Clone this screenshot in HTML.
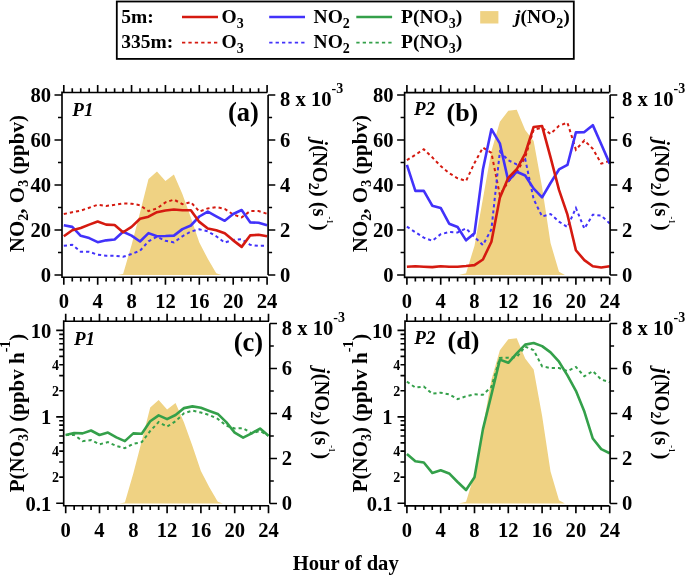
<!DOCTYPE html><html><head><meta charset="utf-8"><style>html,body{margin:0;padding:0;background:#fff;}svg{display:block;will-change:transform;}</style></head><body>
<svg width="685" height="575" viewBox="0 0 685 575" font-family="'Liberation Serif', serif" font-weight="bold">
<rect width="685" height="575" fill="#fff"/>
<rect x="116.8" y="1.5" width="457" height="57.4" fill="none" stroke="#000" stroke-width="1.8"/>
<text x="121.3" y="23.1" font-size="19.5" text-anchor="start" >5m:</text>
<text x="121.3" y="48.3" font-size="19.5" text-anchor="start" >335m:</text>
<line x1="182" y1="17" x2="218" y2="17" stroke="#d51a10" stroke-width="2.6"/>
<line x1="182" y1="42.6" x2="218" y2="42.6" stroke="#d51a10" stroke-width="1.6" stroke-dasharray="3.3,3.1"/>
<text x="221.5" y="23.2" font-size="19.5" text-anchor="start" >O<tspan font-size="14" dy="4.5">3</tspan></text>
<text x="221.5" y="48.4" font-size="19.5" text-anchor="start" >O<tspan font-size="14" dy="4.5">3</tspan></text>
<line x1="269.2" y1="17" x2="305" y2="17" stroke="#4232fa" stroke-width="2.6"/>
<line x1="269.2" y1="42.6" x2="305" y2="42.6" stroke="#4232fa" stroke-width="1.6" stroke-dasharray="3.3,3.1"/>
<text x="313.6" y="23.2" font-size="19.5" text-anchor="start" >NO<tspan font-size="14" dy="4.5">2</tspan></text>
<text x="313.6" y="48.4" font-size="19.5" text-anchor="start" >NO<tspan font-size="14" dy="4.5">2</tspan></text>
<line x1="356.3" y1="17" x2="392.1" y2="17" stroke="#34a04a" stroke-width="2.6"/>
<line x1="356.3" y1="42.6" x2="392.1" y2="42.6" stroke="#34a04a" stroke-width="1.6" stroke-dasharray="3.3,3.1"/>
<text x="401" y="23.2" font-size="19.5" text-anchor="start" >P(NO<tspan font-size="14" dy="4.5">3</tspan><tspan dy="-4.5">)</tspan></text>
<text x="401" y="48.4" font-size="19.5" text-anchor="start" >P(NO<tspan font-size="14" dy="4.5">3</tspan><tspan dy="-4.5">)</tspan></text>
<rect x="480.2" y="11.1" width="18.2" height="12.4" fill="#efd283"/>
<text x="515" y="23.2" font-size="19.5" text-anchor="start" ><tspan font-style="italic">j</tspan>(NO<tspan font-size="14" dy="4.5">2</tspan><tspan dy="-4.5">)</tspan></text>
<defs><clipPath id="clip_a"><rect x="62" y="92.5" width="206.1" height="184.7"/></clipPath></defs>
<g clip-path="url(#clip_a)">
<path d="M117.58,275 L123.09,273.88 L131.56,245.07 L140.03,212.45 L148.5,178.93 L156.97,171.5 L165.44,180.95 L173.91,174.43 L182.38,194 L190.85,217.62 L199.32,242.38 L207.79,258.8 L216.26,273.2 L221.34,275 Z" fill="#efd283"/>
<path d="M63.8,214.03 L72.27,212.22 L80.74,210.65 L89.21,207.72 L97.68,204.8 L106.15,205.93 L114.62,204.8 L123.09,203.45 L131.56,203.68 L140.03,205.25 L148.5,211.1 L156.97,208.4 L165.44,202.33 L173.91,199.62 L182.38,204.12 L190.85,202.1 L199.32,211.55 L207.79,208.4 L216.26,207.05 L224.73,208.85 L233.2,214.47 L241.67,217.4 L250.14,211.1 L258.61,211.1 L267.08,213.8" fill="none" stroke="#d51a10" stroke-width="2.0" stroke-dasharray="3.2,3.0"/>
<path d="M63.8,245.75 L72.27,244.85 L80.74,251.82 L89.21,251.82 L97.68,254.75 L106.15,255.65 L114.62,255.65 L123.09,256.77 L131.56,254.07 L140.03,250.7 L148.5,241.25 L156.97,236.75 L165.44,240.8 L173.91,242.38 L182.38,236.3 L190.85,231.57 L199.32,229.32 L207.79,231.35 L216.26,236.3 L224.73,242.6 L233.2,239.9 L241.67,239.22 L250.14,244.85 L258.61,245.97 L267.08,245.53" fill="none" stroke="#4232fa" stroke-width="2.0" stroke-dasharray="3.2,3.0"/>
<path d="M63.8,225.27 L72.27,226.85 L80.74,235.85 L89.21,238.1 L97.68,242.15 L106.15,240.35 L114.62,239.45 L123.09,231.8 L131.56,235.62 L140.03,241.47 L148.5,233.15 L156.97,236.3 L165.44,236.07 L173.91,235.62 L182.38,229.1 L190.85,225.5 L199.32,216.5 L207.79,211.55 L216.26,216.28 L224.73,220.78 L233.2,214.03 L241.67,209.97 L250.14,222.35 L258.61,222.8 L267.08,225.27" fill="none" stroke="#4232fa" stroke-width="2.6" stroke-linejoin="round"/>
<path d="M63.8,236.3 L72.27,230.23 L80.74,227.98 L89.21,224.6 L97.68,221.45 L106.15,224.6 L114.62,225.05 L123.09,232.25 L131.56,226.85 L140.03,218.75 L148.5,216.72 L156.97,212.22 L165.44,210.43 L173.91,209.53 L182.38,210.2 L190.85,210.2 L199.32,221.9 L207.79,228.43 L216.26,230.23 L224.73,233.15 L233.2,240.35 L241.67,246.88 L250.14,235.4 L258.61,234.73 L267.08,236.3" fill="none" stroke="#d51a10" stroke-width="2.6" stroke-linejoin="round"/>
</g>
<path d="M62,92.5 L267.3,92.5 M62,277.2 L267.3,277.2 M62,91.6 L62,278.1 M268.1,95 L268.1,275 M63.8,92.5 L63.8,85 M63.8,277.2 L63.8,284.7 M72.27,92.5 L72.27,88.3 M72.27,277.2 L72.27,281.4 M80.74,92.5 L80.74,88.3 M80.74,277.2 L80.74,281.4 M89.21,92.5 L89.21,88.3 M89.21,277.2 L89.21,281.4 M97.68,92.5 L97.68,85 M97.68,277.2 L97.68,284.7 M106.15,92.5 L106.15,88.3 M106.15,277.2 L106.15,281.4 M114.62,92.5 L114.62,88.3 M114.62,277.2 L114.62,281.4 M123.09,92.5 L123.09,88.3 M123.09,277.2 L123.09,281.4 M131.56,92.5 L131.56,85 M131.56,277.2 L131.56,284.7 M140.03,92.5 L140.03,88.3 M140.03,277.2 L140.03,281.4 M148.5,92.5 L148.5,88.3 M148.5,277.2 L148.5,281.4 M156.97,92.5 L156.97,88.3 M156.97,277.2 L156.97,281.4 M165.44,92.5 L165.44,85 M165.44,277.2 L165.44,284.7 M173.91,92.5 L173.91,88.3 M173.91,277.2 L173.91,281.4 M182.38,92.5 L182.38,88.3 M182.38,277.2 L182.38,281.4 M190.85,92.5 L190.85,88.3 M190.85,277.2 L190.85,281.4 M199.32,92.5 L199.32,85 M199.32,277.2 L199.32,284.7 M207.79,92.5 L207.79,88.3 M207.79,277.2 L207.79,281.4 M216.26,92.5 L216.26,88.3 M216.26,277.2 L216.26,281.4 M224.73,92.5 L224.73,88.3 M224.73,277.2 L224.73,281.4 M233.2,92.5 L233.2,85 M233.2,277.2 L233.2,284.7 M241.67,92.5 L241.67,88.3 M241.67,277.2 L241.67,281.4 M250.14,92.5 L250.14,88.3 M250.14,277.2 L250.14,281.4 M258.61,92.5 L258.61,88.3 M258.61,277.2 L258.61,281.4 M267.08,92.5 L267.08,85 M267.08,277.2 L267.08,284.7 M268.1,275 L275.3,275 M268.1,252.5 L272.1,252.5 M268.1,230 L275.3,230 M268.1,207.5 L272.1,207.5 M268.1,185 L275.3,185 M268.1,162.5 L272.1,162.5 M268.1,140 L275.3,140 M268.1,117.5 L272.1,117.5 M268.1,95 L275.3,95 M62,275 L54.5,275 M62,252.5 L58,252.5 M62,230 L54.5,230 M62,207.5 L58,207.5 M62,185 L54.5,185 M62,162.5 L58,162.5 M62,140 L54.5,140 M62,117.5 L58,117.5 M62,95 L54.5,95" stroke="#000" stroke-width="1.65" fill="none"/>
<text x="63.8" y="307.8" font-size="20.6" text-anchor="middle" >0</text>
<text x="97.68" y="307.8" font-size="20.6" text-anchor="middle" >4</text>
<text x="131.56" y="307.8" font-size="20.6" text-anchor="middle" >8</text>
<text x="165.44" y="307.8" font-size="20.6" text-anchor="middle" >12</text>
<text x="199.32" y="307.8" font-size="20.6" text-anchor="middle" >16</text>
<text x="233.2" y="307.8" font-size="20.6" text-anchor="middle" >20</text>
<text x="267.08" y="307.8" font-size="20.6" text-anchor="middle" >24</text>
<text x="51" y="281.8" font-size="20.6" text-anchor="end" >0</text>
<text x="51" y="236.8" font-size="20.6" text-anchor="end" >20</text>
<text x="51" y="191.8" font-size="20.6" text-anchor="end" >40</text>
<text x="51" y="146.8" font-size="20.6" text-anchor="end" >60</text>
<text x="51" y="101.8" font-size="20.6" text-anchor="end" >80</text>
<text x="280.1" y="281.8" font-size="20.6" text-anchor="start" >0</text>
<text x="280.1" y="236.8" font-size="20.6" text-anchor="start" >2</text>
<text x="280.1" y="191.8" font-size="20.6" text-anchor="start" >4</text>
<text x="280.1" y="146.8" font-size="20.6" text-anchor="start" >6</text>
<text x="280.1" y="106.2" font-size="20.6" text-anchor="start" >8 x 10<tspan font-size="14" dy="-12.8">-3</tspan></text>
<defs><clipPath id="clip_b"><rect x="404.6" y="92.6" width="205.5" height="184.7"/></clipPath></defs>
<g clip-path="url(#clip_b)">
<path d="M458.87,275 L466.05,273.2 L474.5,245.75 L482.95,198.5 L491.4,151.25 L499.85,121.78 L508.3,110.75 L516.75,109.85 L525.2,129.88 L533.65,141.12 L542.1,187.25 L550.55,243.05 L559,271.85 L564.91,275 Z" fill="#efd283"/>
<path d="M406.9,160.03 L415.35,154.85 L423.8,149.22 L432.25,157.32 L440.7,166.1 L449.15,173.08 L457.6,178.25 L466.05,180.95 L474.5,162.95 L482.95,147.65 L491.4,152.82 L499.85,195.12 L508.3,181.62 L516.75,171.95 L525.2,157.32 L533.65,129.65 L542.1,127.85 L550.55,133.93 L559,125.82 L567.45,122.68 L575.9,149.68 L584.35,140.45 L592.8,148.78 L601.25,163.62 L609.7,160.93" fill="none" stroke="#d51a10" stroke-width="2.0" stroke-dasharray="3.2,3.0"/>
<path d="M406.9,226.62 L415.35,232.25 L423.8,237.65 L432.25,240.8 L440.7,234.27 L449.15,232.02 L457.6,232.48 L466.05,228.43 L474.5,236.98 L482.95,245.07 L491.4,229.32 L499.85,151.7 L508.3,160.25 L516.75,164.3 L525.2,159.12 L533.65,199.17 L542.1,216.5 L550.55,214.03 L559,221.68 L567.45,227.07 L575.9,207.95 L584.35,228.65 L592.8,214.7 L601.25,215.6 L609.7,223.47" fill="none" stroke="#4232fa" stroke-width="2.0" stroke-dasharray="3.2,3.0"/>
<path d="M406.9,164.97 L415.35,190.85 L423.8,190.85 L432.25,205.7 L440.7,207.95 L449.15,223.7 L457.6,227.07 L466.05,240.35 L474.5,233.15 L482.95,169.25 L491.4,129.2 L499.85,143.38 L508.3,180.95 L516.75,171.72 L525.2,175.55 L533.65,188.6 L542.1,197.38 L550.55,182.97 L559,169.47 L567.45,164.97 L575.9,132.35 L584.35,132.12 L592.8,125.15 L601.25,144.28 L609.7,163.62" fill="none" stroke="#4232fa" stroke-width="2.6" stroke-linejoin="round"/>
<path d="M406.9,266.68 L415.35,266.23 L423.8,266.68 L432.25,267.12 L440.7,266.23 L449.15,266.68 L457.6,266.68 L466.05,266 L474.5,265.1 L482.95,259.48 L491.4,241.7 L499.85,197.83 L508.3,177.8 L516.75,169.25 L525.2,153.5 L533.65,126.95 L542.1,126.05 L550.55,157.32 L559,189.95 L567.45,214.7 L575.9,250.25 L584.35,260.15 L592.8,266.23 L601.25,267.57 L609.7,266.23" fill="none" stroke="#d51a10" stroke-width="2.6" stroke-linejoin="round"/>
</g>
<path d="M404.6,92.6 L609.3,92.6 M404.6,277.3 L609.3,277.3 M404.6,91.7 L404.6,278.2 M610.1,95 L610.1,275 M406.9,92.6 L406.9,85.1 M406.9,277.3 L406.9,284.8 M415.35,92.6 L415.35,88.4 M415.35,277.3 L415.35,281.5 M423.8,92.6 L423.8,88.4 M423.8,277.3 L423.8,281.5 M432.25,92.6 L432.25,88.4 M432.25,277.3 L432.25,281.5 M440.7,92.6 L440.7,85.1 M440.7,277.3 L440.7,284.8 M449.15,92.6 L449.15,88.4 M449.15,277.3 L449.15,281.5 M457.6,92.6 L457.6,88.4 M457.6,277.3 L457.6,281.5 M466.05,92.6 L466.05,88.4 M466.05,277.3 L466.05,281.5 M474.5,92.6 L474.5,85.1 M474.5,277.3 L474.5,284.8 M482.95,92.6 L482.95,88.4 M482.95,277.3 L482.95,281.5 M491.4,92.6 L491.4,88.4 M491.4,277.3 L491.4,281.5 M499.85,92.6 L499.85,88.4 M499.85,277.3 L499.85,281.5 M508.3,92.6 L508.3,85.1 M508.3,277.3 L508.3,284.8 M516.75,92.6 L516.75,88.4 M516.75,277.3 L516.75,281.5 M525.2,92.6 L525.2,88.4 M525.2,277.3 L525.2,281.5 M533.65,92.6 L533.65,88.4 M533.65,277.3 L533.65,281.5 M542.1,92.6 L542.1,85.1 M542.1,277.3 L542.1,284.8 M550.55,92.6 L550.55,88.4 M550.55,277.3 L550.55,281.5 M559,92.6 L559,88.4 M559,277.3 L559,281.5 M567.45,92.6 L567.45,88.4 M567.45,277.3 L567.45,281.5 M575.9,92.6 L575.9,85.1 M575.9,277.3 L575.9,284.8 M584.35,92.6 L584.35,88.4 M584.35,277.3 L584.35,281.5 M592.8,92.6 L592.8,88.4 M592.8,277.3 L592.8,281.5 M601.25,92.6 L601.25,88.4 M601.25,277.3 L601.25,281.5 M609.7,92.6 L609.7,85.1 M609.7,277.3 L609.7,284.8 M610.1,275 L617.3,275 M610.1,252.5 L614.1,252.5 M610.1,230 L617.3,230 M610.1,207.5 L614.1,207.5 M610.1,185 L617.3,185 M610.1,162.5 L614.1,162.5 M610.1,140 L617.3,140 M610.1,117.5 L614.1,117.5 M610.1,95 L617.3,95 M404.6,275 L397.1,275 M404.6,252.5 L400.6,252.5 M404.6,230 L397.1,230 M404.6,207.5 L400.6,207.5 M404.6,185 L397.1,185 M404.6,162.5 L400.6,162.5 M404.6,140 L397.1,140 M404.6,117.5 L400.6,117.5 M404.6,95 L397.1,95" stroke="#000" stroke-width="1.65" fill="none"/>
<text x="406.9" y="307.9" font-size="20.6" text-anchor="middle" >0</text>
<text x="440.7" y="307.9" font-size="20.6" text-anchor="middle" >4</text>
<text x="474.5" y="307.9" font-size="20.6" text-anchor="middle" >8</text>
<text x="508.3" y="307.9" font-size="20.6" text-anchor="middle" >12</text>
<text x="542.1" y="307.9" font-size="20.6" text-anchor="middle" >16</text>
<text x="575.9" y="307.9" font-size="20.6" text-anchor="middle" >20</text>
<text x="609.7" y="307.9" font-size="20.6" text-anchor="middle" >24</text>
<text x="393.6" y="281.8" font-size="20.6" text-anchor="end" >0</text>
<text x="393.6" y="236.8" font-size="20.6" text-anchor="end" >20</text>
<text x="393.6" y="191.8" font-size="20.6" text-anchor="end" >40</text>
<text x="393.6" y="146.8" font-size="20.6" text-anchor="end" >60</text>
<text x="393.6" y="101.8" font-size="20.6" text-anchor="end" >80</text>
<text x="622.1" y="281.8" font-size="20.6" text-anchor="start" >0</text>
<text x="622.1" y="236.8" font-size="20.6" text-anchor="start" >2</text>
<text x="622.1" y="191.8" font-size="20.6" text-anchor="start" >4</text>
<text x="622.1" y="146.8" font-size="20.6" text-anchor="start" >6</text>
<text x="622.1" y="106.2" font-size="20.6" text-anchor="start" >8 x 10<tspan font-size="14" dy="-12.8">-3</tspan></text>
<defs><clipPath id="clip_c"><rect x="63.7" y="321.2" width="206.1" height="184.5"/></clipPath></defs>
<g clip-path="url(#clip_c)">
<path d="M119.36,503.5 L124.85,502.38 L133.3,473.57 L141.75,440.95 L150.2,407.43 L158.65,400 L167.1,409.45 L175.55,402.93 L184,422.5 L192.45,446.12 L200.9,470.88 L209.35,487.3 L217.8,501.7 L222.87,503.5 Z" fill="#efd283"/>
<path d="M65.7,434.98 L74.15,434.98 L82.6,441.12 L91.05,440.06 L99.5,444.26 L107.95,442.14 L116.4,445.94 L124.85,448.12 L133.3,443.8 L141.75,442.14 L150.2,431 L158.65,422.11 L167.1,426.61 L175.55,421.3 L184,413.22 L192.45,410.59 L200.9,412.55 L209.35,414.97 L217.8,418.88 L226.25,425.69 L234.7,428.51 L243.15,428.2 L251.6,433.37 L260.05,431 L268.5,435.78" fill="none" stroke="#34a04a" stroke-width="2.0" stroke-dasharray="3.2,3.0"/>
<path d="M65.7,434.98 L74.15,432.96 L82.6,433.37 L91.05,430.51 L99.5,434.98 L107.95,432.62 L116.4,437.37 L124.85,441.12 L133.3,433.37 L141.75,433.72 L150.2,421.3 L158.65,415.33 L167.1,419.12 L175.55,414.97 L184,408.13 L192.45,406.38 L200.9,407.83 L209.35,410.91 L217.8,413.91 L226.25,422.11 L234.7,432.62 L243.15,437.7 L251.6,433.37 L260.05,428.51 L268.5,435.78" fill="none" stroke="#34a04a" stroke-width="2.6" stroke-linejoin="round"/>
</g>
<path d="M63.7,321.2 L269,321.2 M63.7,505.7 L269,505.7 M63.7,320.3 L63.7,506.6 M269.8,323.5 L269.8,503.5 M65.7,321.2 L65.7,313.7 M65.7,505.7 L65.7,513.2 M74.15,321.2 L74.15,317 M74.15,505.7 L74.15,509.9 M82.6,321.2 L82.6,317 M82.6,505.7 L82.6,509.9 M91.05,321.2 L91.05,317 M91.05,505.7 L91.05,509.9 M99.5,321.2 L99.5,313.7 M99.5,505.7 L99.5,513.2 M107.95,321.2 L107.95,317 M107.95,505.7 L107.95,509.9 M116.4,321.2 L116.4,317 M116.4,505.7 L116.4,509.9 M124.85,321.2 L124.85,317 M124.85,505.7 L124.85,509.9 M133.3,321.2 L133.3,313.7 M133.3,505.7 L133.3,513.2 M141.75,321.2 L141.75,317 M141.75,505.7 L141.75,509.9 M150.2,321.2 L150.2,317 M150.2,505.7 L150.2,509.9 M158.65,321.2 L158.65,317 M158.65,505.7 L158.65,509.9 M167.1,321.2 L167.1,313.7 M167.1,505.7 L167.1,513.2 M175.55,321.2 L175.55,317 M175.55,505.7 L175.55,509.9 M184,321.2 L184,317 M184,505.7 L184,509.9 M192.45,321.2 L192.45,317 M192.45,505.7 L192.45,509.9 M200.9,321.2 L200.9,313.7 M200.9,505.7 L200.9,513.2 M209.35,321.2 L209.35,317 M209.35,505.7 L209.35,509.9 M217.8,321.2 L217.8,317 M217.8,505.7 L217.8,509.9 M226.25,321.2 L226.25,317 M226.25,505.7 L226.25,509.9 M234.7,321.2 L234.7,313.7 M234.7,505.7 L234.7,513.2 M243.15,321.2 L243.15,317 M243.15,505.7 L243.15,509.9 M251.6,321.2 L251.6,317 M251.6,505.7 L251.6,509.9 M260.05,321.2 L260.05,317 M260.05,505.7 L260.05,509.9 M268.5,321.2 L268.5,313.7 M268.5,505.7 L268.5,513.2 M269.8,503.5 L277,503.5 M269.8,481 L273.8,481 M269.8,458.5 L277,458.5 M269.8,436 L273.8,436 M269.8,413.5 L277,413.5 M269.8,391 L273.8,391 M269.8,368.5 L277,368.5 M269.8,346 L273.8,346 M269.8,323.5 L277,323.5 M63.7,503.2 L56.2,503.2 M63.7,477.19 L59.2,477.19 M63.7,461.98 L59.2,461.98 M63.7,451.18 L59.2,451.18 M63.7,442.81 L59.2,442.81 M63.7,435.97 L59.2,435.97 M63.7,430.18 L59.2,430.18 M63.7,425.17 L59.2,425.17 M63.7,420.75 L59.2,420.75 M63.7,416.8 L56.2,416.8 M63.7,390.79 L59.2,390.79 M63.7,375.58 L59.2,375.58 M63.7,364.78 L59.2,364.78 M63.7,356.41 L59.2,356.41 M63.7,349.57 L59.2,349.57 M63.7,343.78 L59.2,343.78 M63.7,338.77 L59.2,338.77 M63.7,334.35 L59.2,334.35 M63.7,330.4 L56.2,330.4" stroke="#000" stroke-width="1.65" fill="none"/>
<text x="65.7" y="536.6" font-size="20.6" text-anchor="middle" >0</text>
<text x="99.5" y="536.6" font-size="20.6" text-anchor="middle" >4</text>
<text x="133.3" y="536.6" font-size="20.6" text-anchor="middle" >8</text>
<text x="167.1" y="536.6" font-size="20.6" text-anchor="middle" >12</text>
<text x="200.9" y="536.6" font-size="20.6" text-anchor="middle" >16</text>
<text x="234.7" y="536.6" font-size="20.6" text-anchor="middle" >20</text>
<text x="268.5" y="536.6" font-size="20.6" text-anchor="middle" >24</text>
<text x="51.3" y="337.7" font-size="20.6" text-anchor="end" >10</text>
<text x="51.3" y="424.1" font-size="20.6" text-anchor="end" >1</text>
<text x="51.3" y="510.5" font-size="20.6" text-anchor="end" >0.1</text>
<text x="58.9" y="369.58" font-size="14" text-anchor="end" >4</text>
<text x="58.9" y="395.59" font-size="14" text-anchor="end" >2</text>
<text x="58.9" y="455.98" font-size="14" text-anchor="end" >4</text>
<text x="58.9" y="481.99" font-size="14" text-anchor="end" >2</text>
<text x="281.8" y="510.3" font-size="20.6" text-anchor="start" >0</text>
<text x="281.8" y="465.3" font-size="20.6" text-anchor="start" >2</text>
<text x="281.8" y="420.3" font-size="20.6" text-anchor="start" >4</text>
<text x="281.8" y="375.3" font-size="20.6" text-anchor="start" >6</text>
<text x="281.8" y="334.7" font-size="20.6" text-anchor="start" >8 x 10<tspan font-size="14" dy="-12.8">-3</tspan></text>
<defs><clipPath id="clip_d"><rect x="405" y="321.2" width="205.1" height="184.6"/></clipPath></defs>
<g clip-path="url(#clip_d)">
<path d="M458.87,503.5 L466.05,501.7 L474.5,474.25 L482.95,427 L491.4,379.75 L499.85,350.27 L508.3,339.25 L516.75,338.35 L525.2,358.38 L533.65,369.62 L542.1,415.75 L550.55,471.55 L559,500.35 L564.91,503.5 Z" fill="#efd283"/>
<path d="M406.9,381.67 L415.35,387.56 L423.8,386.54 L432.25,393.72 L440.7,392.72 L449.15,394.33 L457.6,399.16 L466.05,396.23 L474.5,394.33 L482.95,394.74 L491.4,386.88 L499.85,357.94 L508.3,357.63 L516.75,357.17 L525.2,346.56 L533.65,350.2 L542.1,366.31 L550.55,368.01 L559,368.01 L567.45,371.1 L575.9,366.9 L584.35,376.33 L592.8,371.1 L601.25,379.53 L609.7,382.27" fill="none" stroke="#34a04a" stroke-width="2.0" stroke-dasharray="3.2,3.0"/>
<path d="M406.9,453.91 L415.35,461.23 L423.8,462.48 L432.25,472.94 L440.7,470.19 L449.15,473.44 L457.6,481.99 L466.05,490.04 L474.5,477.19 L482.95,429.13 L491.4,394.74 L499.85,359.62 L508.3,362.77 L516.75,353.38 L525.2,344.6 L533.65,342.99 L542.1,346.11 L550.55,352.36 L559,361.72 L567.45,375.33 L575.9,390.79 L584.35,411.56 L592.8,438.56 L601.25,449.17 L609.7,453.21" fill="none" stroke="#34a04a" stroke-width="2.6" stroke-linejoin="round"/>
</g>
<path d="M405,321.2 L609.3,321.2 M405,505.8 L609.3,505.8 M405,320.3 L405,506.7 M610.1,323.5 L610.1,503.5 M406.9,321.2 L406.9,313.7 M406.9,505.8 L406.9,513.3 M415.35,321.2 L415.35,317 M415.35,505.8 L415.35,510 M423.8,321.2 L423.8,317 M423.8,505.8 L423.8,510 M432.25,321.2 L432.25,317 M432.25,505.8 L432.25,510 M440.7,321.2 L440.7,313.7 M440.7,505.8 L440.7,513.3 M449.15,321.2 L449.15,317 M449.15,505.8 L449.15,510 M457.6,321.2 L457.6,317 M457.6,505.8 L457.6,510 M466.05,321.2 L466.05,317 M466.05,505.8 L466.05,510 M474.5,321.2 L474.5,313.7 M474.5,505.8 L474.5,513.3 M482.95,321.2 L482.95,317 M482.95,505.8 L482.95,510 M491.4,321.2 L491.4,317 M491.4,505.8 L491.4,510 M499.85,321.2 L499.85,317 M499.85,505.8 L499.85,510 M508.3,321.2 L508.3,313.7 M508.3,505.8 L508.3,513.3 M516.75,321.2 L516.75,317 M516.75,505.8 L516.75,510 M525.2,321.2 L525.2,317 M525.2,505.8 L525.2,510 M533.65,321.2 L533.65,317 M533.65,505.8 L533.65,510 M542.1,321.2 L542.1,313.7 M542.1,505.8 L542.1,513.3 M550.55,321.2 L550.55,317 M550.55,505.8 L550.55,510 M559,321.2 L559,317 M559,505.8 L559,510 M567.45,321.2 L567.45,317 M567.45,505.8 L567.45,510 M575.9,321.2 L575.9,313.7 M575.9,505.8 L575.9,513.3 M584.35,321.2 L584.35,317 M584.35,505.8 L584.35,510 M592.8,321.2 L592.8,317 M592.8,505.8 L592.8,510 M601.25,321.2 L601.25,317 M601.25,505.8 L601.25,510 M609.7,321.2 L609.7,313.7 M609.7,505.8 L609.7,513.3 M610.1,503.5 L617.3,503.5 M610.1,481 L614.1,481 M610.1,458.5 L617.3,458.5 M610.1,436 L614.1,436 M610.1,413.5 L617.3,413.5 M610.1,391 L614.1,391 M610.1,368.5 L617.3,368.5 M610.1,346 L614.1,346 M610.1,323.5 L617.3,323.5 M405,503.2 L397.5,503.2 M405,477.19 L400.5,477.19 M405,461.98 L400.5,461.98 M405,451.18 L400.5,451.18 M405,442.81 L400.5,442.81 M405,435.97 L400.5,435.97 M405,430.18 L400.5,430.18 M405,425.17 L400.5,425.17 M405,420.75 L400.5,420.75 M405,416.8 L397.5,416.8 M405,390.79 L400.5,390.79 M405,375.58 L400.5,375.58 M405,364.78 L400.5,364.78 M405,356.41 L400.5,356.41 M405,349.57 L400.5,349.57 M405,343.78 L400.5,343.78 M405,338.77 L400.5,338.77 M405,334.35 L400.5,334.35 M405,330.4 L397.5,330.4" stroke="#000" stroke-width="1.65" fill="none"/>
<text x="406.9" y="536.7" font-size="20.6" text-anchor="middle" >0</text>
<text x="440.7" y="536.7" font-size="20.6" text-anchor="middle" >4</text>
<text x="474.5" y="536.7" font-size="20.6" text-anchor="middle" >8</text>
<text x="508.3" y="536.7" font-size="20.6" text-anchor="middle" >12</text>
<text x="542.1" y="536.7" font-size="20.6" text-anchor="middle" >16</text>
<text x="575.9" y="536.7" font-size="20.6" text-anchor="middle" >20</text>
<text x="609.7" y="536.7" font-size="20.6" text-anchor="middle" >24</text>
<text x="392.6" y="337.7" font-size="20.6" text-anchor="end" >10</text>
<text x="392.6" y="424.1" font-size="20.6" text-anchor="end" >1</text>
<text x="392.6" y="510.5" font-size="20.6" text-anchor="end" >0.1</text>
<text x="400.2" y="369.58" font-size="14" text-anchor="end" >4</text>
<text x="400.2" y="395.59" font-size="14" text-anchor="end" >2</text>
<text x="400.2" y="455.98" font-size="14" text-anchor="end" >4</text>
<text x="400.2" y="481.99" font-size="14" text-anchor="end" >2</text>
<text x="622.1" y="510.3" font-size="20.6" text-anchor="start" >0</text>
<text x="622.1" y="465.3" font-size="20.6" text-anchor="start" >2</text>
<text x="622.1" y="420.3" font-size="20.6" text-anchor="start" >4</text>
<text x="622.1" y="375.3" font-size="20.6" text-anchor="start" >6</text>
<text x="622.1" y="334.7" font-size="20.6" text-anchor="start" >8 x 10<tspan font-size="14" dy="-12.8">-3</tspan></text>
<text x="72.3" y="116.1" font-size="19" text-anchor="start" font-style="italic">P1</text>
<text x="74" y="344.5" font-size="19" text-anchor="start" font-style="italic">P1</text>
<text x="414.1" y="114.6" font-size="19" text-anchor="start" font-style="italic">P2</text>
<text x="414.3" y="343.7" font-size="19" text-anchor="start" font-style="italic">P2</text>
<text x="258.8" y="121" font-size="26.5" text-anchor="end" >(a)</text>
<text x="446.5" y="121" font-size="26" text-anchor="start" >(b)</text>
<text x="263.2" y="351.1" font-size="26.5" text-anchor="end" >(c)</text>
<text x="447.6" y="349.2" font-size="26" text-anchor="start" >(d)</text>
<text transform="translate(23.5,183.6) rotate(-90)" font-size="21" text-anchor="middle">NO<tspan font-size="14" dy="4">2</tspan><tspan dy="-4">, O</tspan><tspan font-size="14" dy="4">3</tspan><tspan dy="-4"> (ppbv)</tspan></text>
<text transform="translate(366.5,183.6) rotate(-90)" font-size="21" text-anchor="middle">NO<tspan font-size="14" dy="4">2</tspan><tspan dy="-4">, O</tspan><tspan font-size="14" dy="4">3</tspan><tspan dy="-4"> (ppbv)</tspan></text>
<text transform="translate(24,413) rotate(-90)" font-size="21" text-anchor="middle">P(NO<tspan font-size="14" dy="4">3</tspan><tspan dy="-4">) (ppbv h</tspan><tspan font-size="14" dy="-13.6">-1</tspan><tspan dy="13.6">)</tspan></text>
<text transform="translate(366.5,413) rotate(-90)" font-size="21" text-anchor="middle">P(NO<tspan font-size="14" dy="4">3</tspan><tspan dy="-4">) (ppbv h</tspan><tspan font-size="14" dy="-13.6">-1</tspan><tspan dy="13.6">)</tspan></text>
<text transform="translate(312.9,184.9) rotate(90)" font-size="20.6" text-anchor="middle"><tspan font-style="italic">j</tspan>(NO<tspan font-size="14" dy="4">2</tspan><tspan dy="-4">) (s</tspan><tspan font-size="8.5" dy="-14">-1</tspan><tspan dy="14">)</tspan></text>
<text transform="translate(654.9,184.9) rotate(90)" font-size="20.6" text-anchor="middle"><tspan font-style="italic">j</tspan>(NO<tspan font-size="14" dy="4">2</tspan><tspan dy="-4">) (s</tspan><tspan font-size="8.5" dy="-14">-1</tspan><tspan dy="14">)</tspan></text>
<text transform="translate(314.6,413.5) rotate(90)" font-size="20.6" text-anchor="middle"><tspan font-style="italic">j</tspan>(NO<tspan font-size="14" dy="4">2</tspan><tspan dy="-4">) (s</tspan><tspan font-size="8.5" dy="-14">-1</tspan><tspan dy="14">)</tspan></text>
<text transform="translate(655.1,413.6) rotate(90)" font-size="20.6" text-anchor="middle"><tspan font-style="italic">j</tspan>(NO<tspan font-size="14" dy="4">2</tspan><tspan dy="-4">) (s</tspan><tspan font-size="8.5" dy="-14">-1</tspan><tspan dy="14">)</tspan></text>
<text x="345.7" y="569.7" font-size="20.6" text-anchor="middle" >Hour of day</text>
</svg></body></html>
